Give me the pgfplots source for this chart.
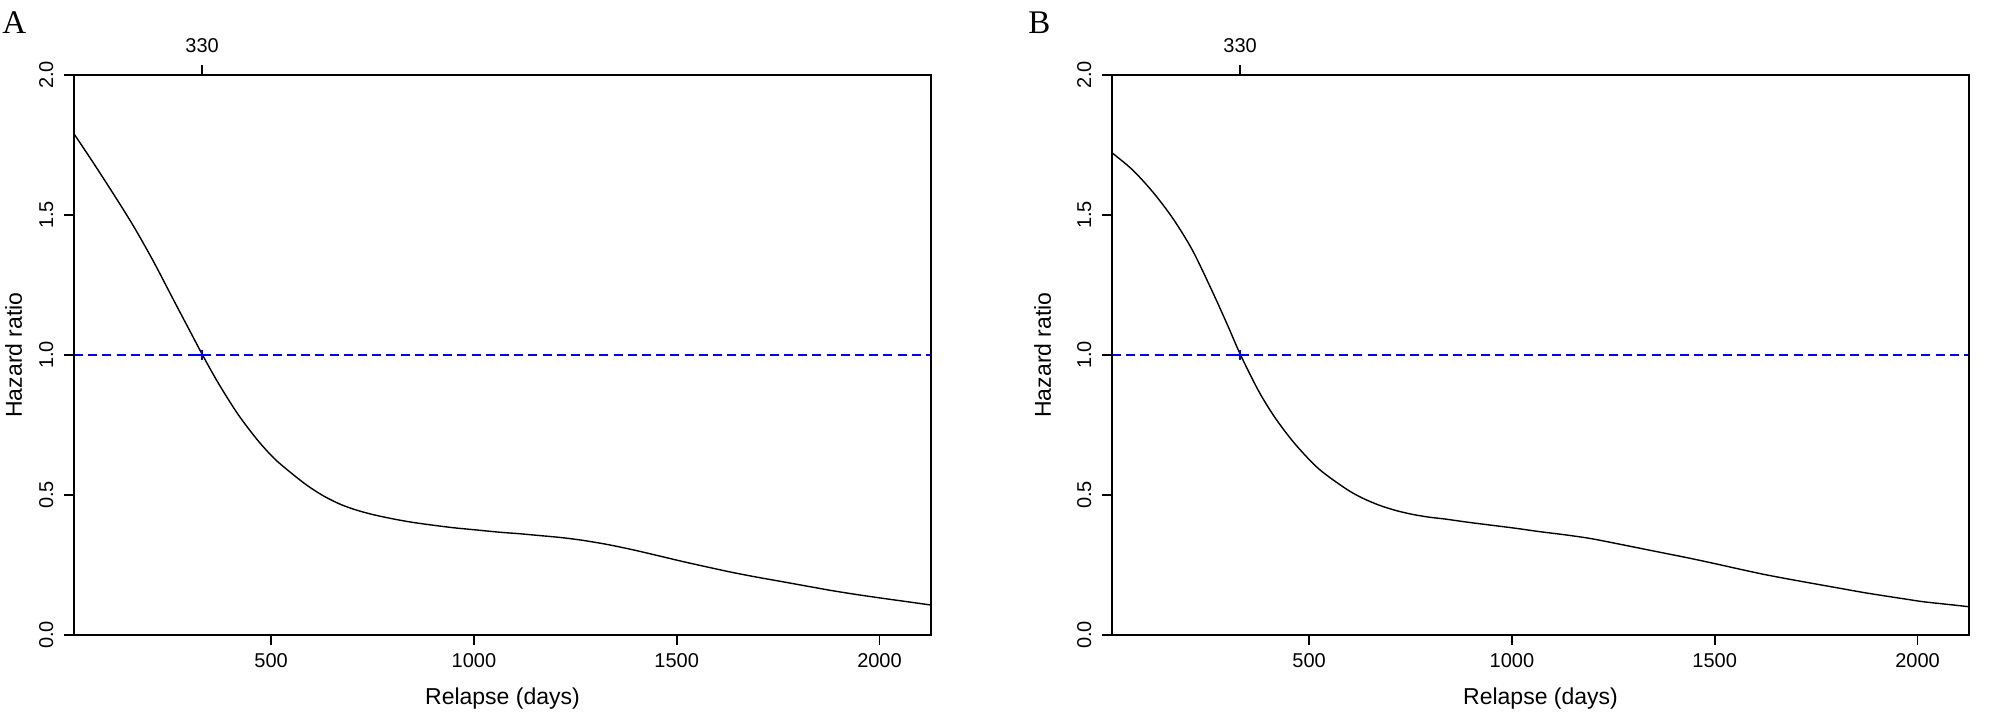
\documentclass[border=0pt]{standalone}
\usepackage{pgfplots}
\pgfplotsset{compat=1.18}
\usepackage{fontspec}
\setmainfont{Liberation Sans}
\newfontfamily\seriffont{Liberation Serif}

\pgfplotstableread{
x y
14 1.790
60 1.690
110 1.578
160 1.462
210 1.334
260 1.195
300 1.085
331 1.000
368 0.904
417 0.791
466 0.697
508 0.630
550 0.578
590 0.533
630 0.496
672 0.466
713 0.445
754 0.429
803 0.414
850 0.402
900 0.392
950 0.383
1000 0.376
1064 0.367
1110 0.362
1163 0.355
1215 0.348
1269 0.338
1330 0.323
1393 0.304
1455 0.283
1516 0.262
1578 0.242
1639 0.223
1700 0.206
1762 0.190
1823 0.174
1885 0.158
1946 0.144
2008 0.131
2068 0.119
2127 0.107
}\dataA

\pgfplotstableread{
x y
14 1.722
64 1.662
113.5 1.584
163 1.490
212 1.375
261 1.228
300 1.103
331 1.000
376 0.870
417 0.774
466 0.681
524 0.593
590 0.523
630 0.490
672 0.464
713 0.445
754 0.431
795 0.421
836 0.414
890 0.403
950 0.392
1010 0.381
1069 0.369
1130 0.358
1192 0.345
1253 0.328
1315 0.310
1377 0.292
1439 0.274
1500 0.255
1562 0.235
1623 0.216
1685 0.199
1746 0.183
1808 0.167
1870 0.151
1931 0.137
1972 0.128
2013 0.119
2070 0.110
2127 0.101
}\dataB

\pgfplotsset{
  hrbase/.style={
    scale only axis, width=428.5bp, height=280bp,
    xmin=14, xmax=2127, ymin=0, ymax=2,
    axis line style={line width=0.8bp},
    every tick/.style={black, line width=0.8bp},
    tick align=outside, major tick length=5bp,
    tick label style={font=\fontsize{10bp}{11bp}\selectfont, inner sep=0pt},
    label style={font=\fontsize{11.5bp}{13bp}\selectfont, inner sep=0pt},
  },
  hrmain/.style={hrbase,
    xtick={500,1000,1500,2000}, xticklabels={500,1000,1500,2000},
    ytick={0,0.5,1,1.5,2}, yticklabels={0.0,0.5,1.0,1.5,2.0},
    xtick pos=left, ytick pos=left,
    xticklabel style={anchor=base}, xticklabel shift=11bp,
    yticklabel style={rotate=90, anchor=base}, yticklabel shift=5.5bp,
    xlabel={Relapse (days)}, ylabel={Hazard ratio},
    xlabel style={at={(axis description cs:0.5,0)}, anchor=base, yshift=-34.5bp},
  },
  hrtop/.style={hrbase,
    xtick={330}, xticklabels={330}, ytick=\empty,
    xtick pos=right, xticklabel pos=right,
    xticklabel style={anchor=base}, xticklabel shift=6bp,
  },
  hrdash/.style={blue, line width=0.55bp, dash pattern=on 4.5bp off 2.6bp},
  hrcurve/.style={black, line width=0.7bp, smooth},
  hrmark/.style={blue, only marks, mark=+, mark size=2.4bp, line width=0.9bp},
}

\begin{document}
\begin{tikzpicture}
\path[use as bounding box] (0,0) rectangle (1004bp,364bp);

% Panel A
\begin{axis}[hrmain, at={(37bp,46.5bp)}, anchor=south west,
  ylabel style={at={(axis description cs:-0.0607,0.5)}, anchor=base}]
\addplot[hrdash] coordinates {(14,1) (2127,1)};
\addplot[hrcurve] table[x=x,y=y] {\dataA};
\addplot[hrmark] coordinates {(330,1)};
\end{axis}
\begin{axis}[hrtop, at={(37bp,46.5bp)}, anchor=south west]
\end{axis}

% Panel B
\begin{axis}[hrmain, at={(556bp,46.5bp)}, anchor=south west,
  ylabel style={at={(axis description cs:-0.0712,0.5)}, anchor=base}]
\addplot[hrdash] coordinates {(14,1) (2127,1)};
\addplot[hrcurve] table[x=x,y=y] {\dataB};
\addplot[hrmark] coordinates {(330,1)};
\end{axis}
\begin{axis}[hrtop, at={(556bp,46.5bp)}, anchor=south west]
\end{axis}

\node[anchor=base west, inner sep=0pt, font=\seriffont\fontsize{16.5bp}{18bp}\selectfont] at (1bp,347bp) {A};
\node[anchor=base west, inner sep=0pt, font=\seriffont\fontsize{16.5bp}{18bp}\selectfont] at (514bp,347bp) {B};
\end{tikzpicture}
\end{document}
